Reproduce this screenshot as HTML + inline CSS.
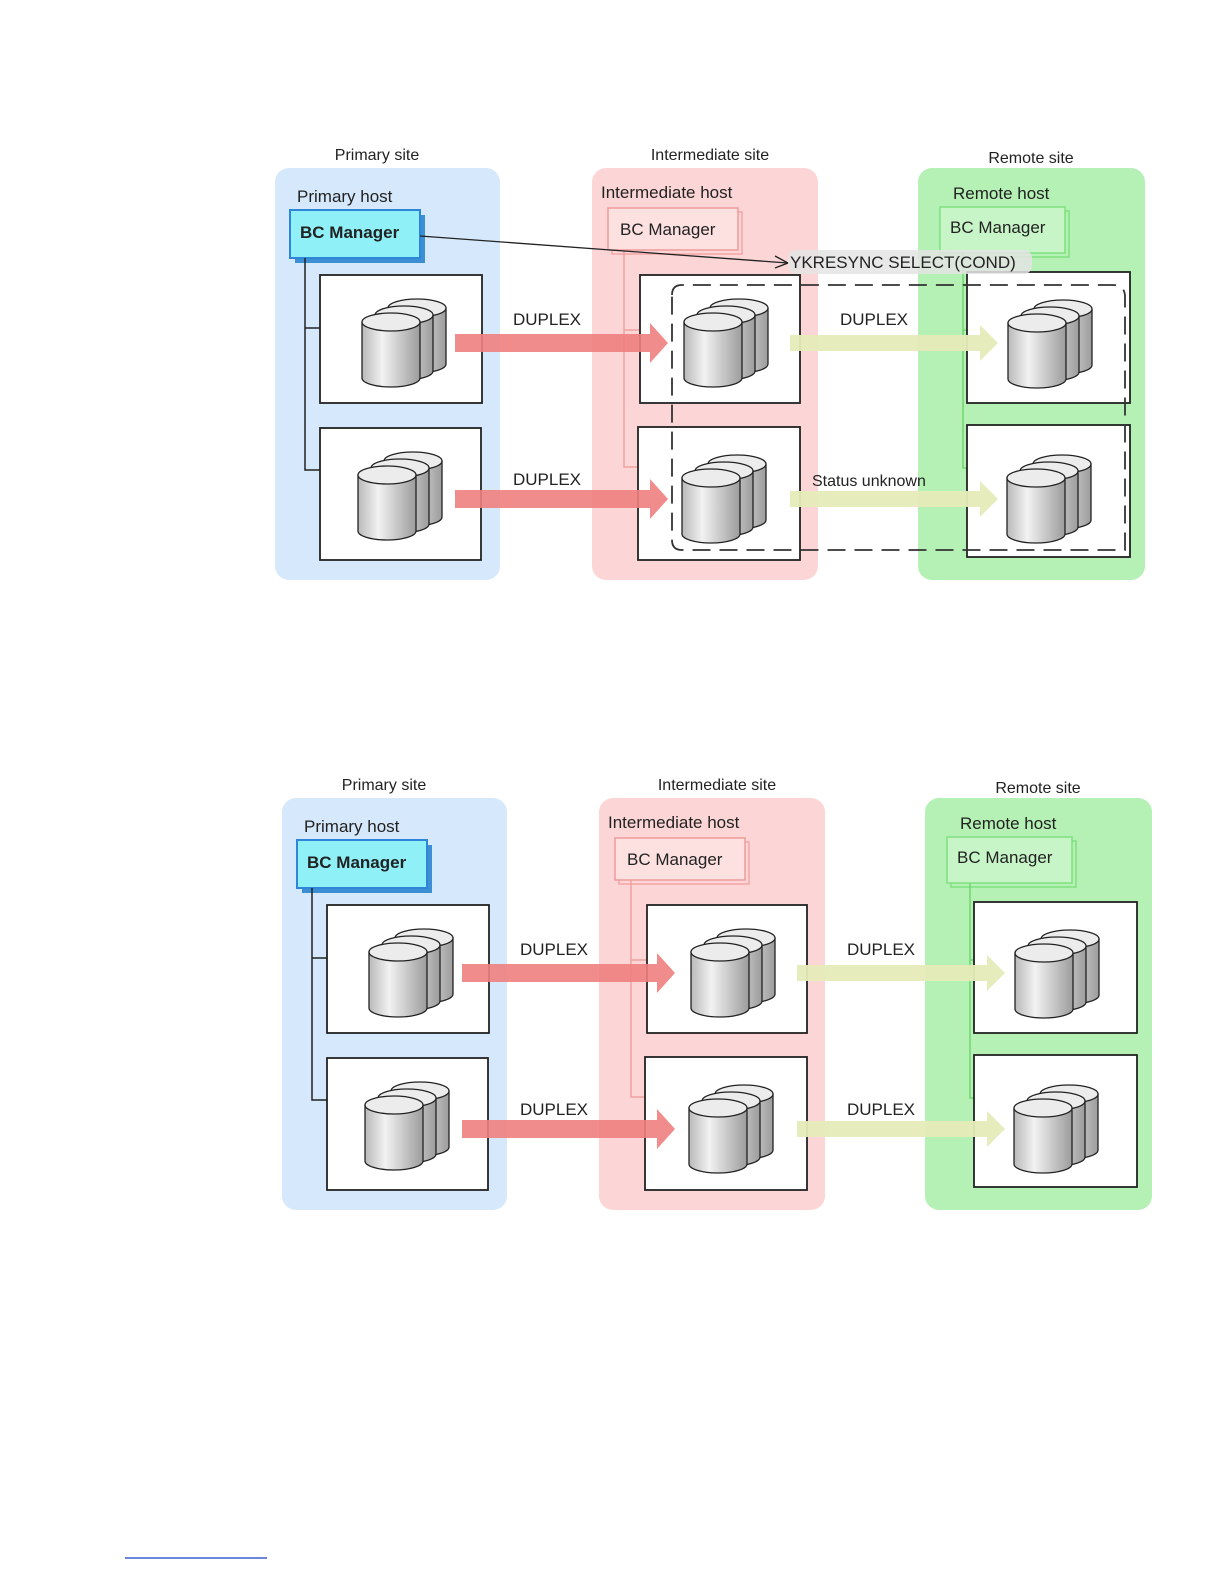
<!DOCTYPE html>
<html><head><meta charset="utf-8"><style>
html,body{margin:0;padding:0;background:#fff;width:1224px;height:1584px;overflow:hidden}
svg{display:block;position:absolute;left:0;top:0}
text{font-family:"Liberation Sans",Arial,sans-serif;fill:#222}
</style></head><body>
<svg width="1224" height="1584" viewBox="0 0 1224 1584" xmlns="http://www.w3.org/2000/svg">
<defs>
<linearGradient id="cg" x1="0" x2="1" y1="0" y2="0">
<stop offset="0" stop-color="#b9b9b9"/><stop offset="0.35" stop-color="#f2f2f2"/><stop offset="1" stop-color="#9c9c9c"/>
</linearGradient>
<g id="cyl">
<path d="M0,0 v56 a29,9 0 0 0 58,0 v-56 z" fill="url(#cg)" stroke="#222" stroke-width="1.3"/>
<ellipse cx="29" cy="0" rx="29" ry="9" fill="#ececec" stroke="#222" stroke-width="1.3"/>
</g>
<g id="stack">
<use href="#cyl" x="26" y="-14"/><use href="#cyl" x="13" y="-7"/><use href="#cyl" x="0" y="0"/>
</g>
<g id="redarrow"><polygon points="0,-9 195,-9 195,-20 213,0 195,20 195,9 0,9" fill="#f08080" opacity="0.9"/></g>
<g id="yelarrow"><polygon points="0,-8 190,-8 190,-18 208,0 190,18 190,8 0,8" fill="#e6ebb8" opacity="0.95"/></g>
<g id="base">
<rect x="275" y="168" width="225" height="412" rx="14" fill="#d6e8fb"/>
<rect x="592" y="168" width="226" height="412" rx="14" fill="#fcd6d6"/>
<rect x="918" y="168" width="227" height="412" rx="14" fill="#b5f0b5"/>
<text x="377" y="160" font-size="16" text-anchor="middle">Primary site</text>
<text x="710" y="160" font-size="16" text-anchor="middle">Intermediate site</text>
<text x="1031" y="163" font-size="16" text-anchor="middle">Remote site</text>
<text x="297" y="202" font-size="17">Primary host</text>
<text x="601" y="198" font-size="17">Intermediate host</text>
<text x="953" y="199" font-size="17">Remote host</text>
<rect x="295" y="215" width="130" height="48" fill="#3d8fd4"/>
<rect x="290" y="210" width="130" height="48" fill="#8ff0f8" stroke="#2f86d8" stroke-width="2"/>
<text x="300" y="238" font-size="17" font-weight="bold" fill="#123">BC Manager</text>
<rect x="612" y="212" width="130" height="42" fill="none" stroke="#f4a6a6" stroke-width="1.5"/>
<rect x="608" y="208" width="130" height="42" fill="#fde0e0" stroke="#ee9a9a" stroke-width="1.5"/>
<text x="620" y="235" font-size="17">BC Manager</text>
<rect x="944" y="211" width="125" height="46" fill="none" stroke="#7fe07f" stroke-width="1.5"/>
<rect x="940" y="207" width="125" height="46" fill="#c8f5c8" stroke="#7fe07f" stroke-width="1.5"/>
<text x="950" y="233" font-size="17">BC Manager</text>
<polyline points="305,258 305,470 320,470" fill="none" stroke="#222" stroke-width="1.5"/>
<line x1="305" y1="328" x2="320" y2="328" stroke="#222" stroke-width="1.5"/>
<polyline points="624,250 624,467 640,467" fill="none" stroke="#f0a0a0" stroke-width="1.5"/>
<line x1="624" y1="330" x2="640" y2="330" stroke="#f0a0a0" stroke-width="1.5"/>
<polyline points="963,253 963,468 967,468" fill="none" stroke="#6fd86f" stroke-width="1.5"/>
<line x1="963" y1="330" x2="967" y2="330" stroke="#6fd86f" stroke-width="1.5"/>
<rect x="320" y="275" width="162" height="128" fill="#fff" stroke="#222" stroke-width="1.8"/>
<rect x="320" y="428" width="161" height="132" fill="#fff" stroke="#222" stroke-width="1.8"/>
<rect x="640" y="275" width="160" height="128" fill="#fff" stroke="#222" stroke-width="1.8"/>
<rect x="638" y="427" width="162" height="133" fill="#fff" stroke="#222" stroke-width="1.8"/>
<rect x="967" y="272" width="163" height="131" fill="#fff" stroke="#222" stroke-width="1.8"/>
<rect x="967" y="425" width="163" height="132" fill="#fff" stroke="#222" stroke-width="1.8"/>
<use href="#stack" x="362" y="322"/>
<use href="#stack" x="358" y="475"/>
<use href="#stack" x="684" y="322"/>
<use href="#stack" x="682" y="478"/>
<use href="#stack" x="1008" y="323"/>
<use href="#stack" x="1007" y="478"/>
<use href="#redarrow" x="455" y="343"/>
<use href="#redarrow" x="455" y="499"/>
<use href="#yelarrow" x="790" y="343"/>
<use href="#yelarrow" x="790" y="499"/>
<text x="513" y="325" font-size="17">DUPLEX</text>
<text x="513" y="485" font-size="17">DUPLEX</text>
<text x="840" y="325" font-size="17">DUPLEX</text>
</g>
</defs>

<use href="#base"/>
<text x="812" y="486" font-size="16">Status unknown</text>
<path d="M672,295 Q672,285 682,285 H1113 Q1125,285 1125,297 V550 H682 Q672,550 672,540 Z" fill="none" stroke="#333" stroke-width="1.8" stroke-dasharray="18,9"/>
<line x1="420" y1="236" x2="788" y2="263" stroke="#222" stroke-width="1.3"/>
<polyline points="775,256 788,263 775,268" fill="none" stroke="#222" stroke-width="1.3"/>
<rect x="788" y="250" width="244" height="24" rx="8" fill="#e4e4e4" opacity="0.85"/>
<text x="790" y="268" font-size="17">YKRESYNC SELECT(COND)</text>

<g transform="translate(7,630)">
<use href="#base"/>
<text x="840" y="485" font-size="17">DUPLEX</text>
</g>

<line x1="125" y1="1558" x2="267" y2="1558" stroke="#3a5fcd" stroke-width="1.5"/>
</svg>
</body></html>
